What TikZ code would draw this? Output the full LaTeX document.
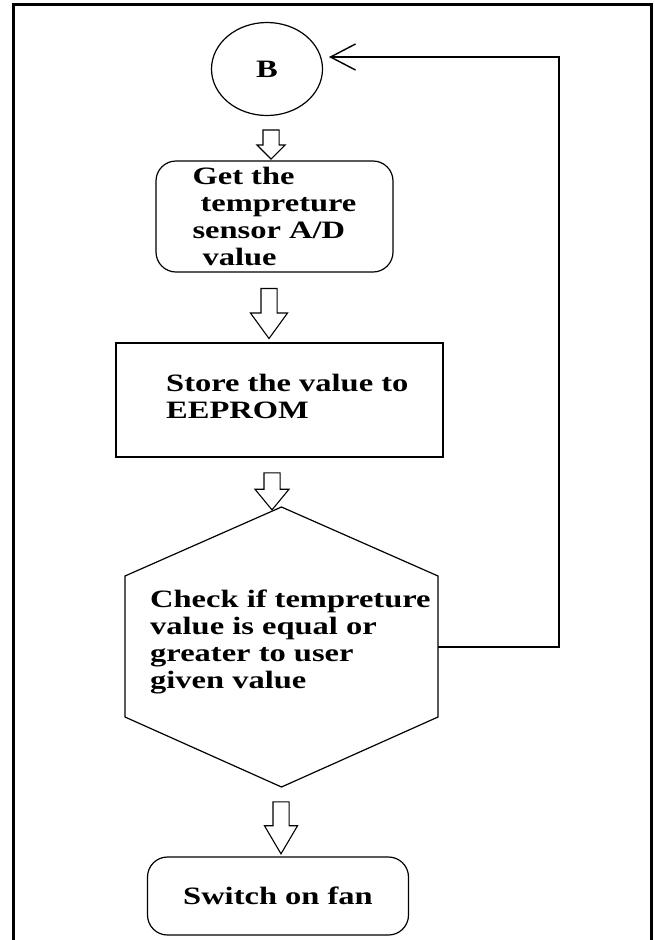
\documentclass[tikz,border=0pt]{standalone}
\usepackage{fontspec}
\setmainfont{Liberation Serif}[FakeStretch=1.3]
\usetikzlibrary{shapes.geometric,shapes.arrows,arrows.meta}
\newcommand{\flowfont}{\fontsize{25}{27}\selectfont\bfseries}

\begin{document}
\begin{tikzpicture}[x=1pt,y=-1pt,
  box/.style={draw,line width=1.2pt,inner sep=0pt},
  roundbox/.style={box,rounded corners=20pt},
  txt/.style={font=\flowfont,align=left,inner sep=0pt},
  downarrow/.style={single arrow,draw,line width=1.1pt,shape border rotate=270,
    inner sep=7.5pt,single arrow head indent=0pt}]
\useasboundingbox (0,0) rectangle (654,940);

% frame
\draw[line width=3pt] (13.5,940) -- (13.5,4.5) -- (651,4.5) -- (651,940);

% connector B
\node[box,ellipse,minimum width=111pt,minimum height=93pt,font=\flowfont] (b) at (267,69) {B};

% get the value
\node[roundbox,minimum width=237pt,minimum height=111pt,font=\flowfont,align=left] (get) at (274.5,216.5)
  {Get the\\\hspace*{8pt}tempreture\\sensor A/D\\\hspace*{10pt}value};

% store
\node[box,minimum width=327pt,minimum height=114pt] (store) at (279.5,400) {};
\node[txt,anchor=west] (storetxt) at (166,396.5) {Store the value to\\EEPROM};

% check
\coordinate (htop) at (281.5,507);
\coordinate (hur) at (438,576);
\coordinate (hright) at (438,647);
\coordinate (hlr) at (438,717);
\coordinate (hbot) at (281.5,787);
\coordinate (hll) at (125,717);
\coordinate (hul) at (125,576);
\draw[line width=1.2pt] (htop) -- (hur) -- (hlr) -- (hbot) -- (hll) -- (hul) -- cycle;
\node[txt,anchor=west] (check) at (150,642)
  {Check if tempreture\\value is equal or\\greater to user\\given value};

% switch on
\node[roundbox,minimum width=261pt,minimum height=78pt,font=\flowfont] (fan) at (278,896) {Switch on fan};

% arrows
\node[downarrow,minimum height=29pt,single arrow head extend=6pt,single arrow tip angle=90] (a1) at (271,140.5) {};
\node[downarrow,minimum height=50pt,single arrow head extend=10.5pt,single arrow tip angle=72] (a2) at (269,308) {};
\node[downarrow,minimum height=37pt,single arrow head extend=9pt,single arrow tip angle=79] (a3) at (272,486.5) {};
\node[downarrow,minimum height=52pt,single arrow head extend=8.5pt,single arrow tip angle=61] (a4) at (281,821) {};

% loop back
\coordinate (loop) at (559,647);
\coordinate (btip) at (329,57);
\draw[line width=1.6pt,-{Straight Barb[length=25pt,width=26pt,line width=1.4pt]}] (hright) -- (loop) |- (btip);
\end{tikzpicture}
\end{document}
